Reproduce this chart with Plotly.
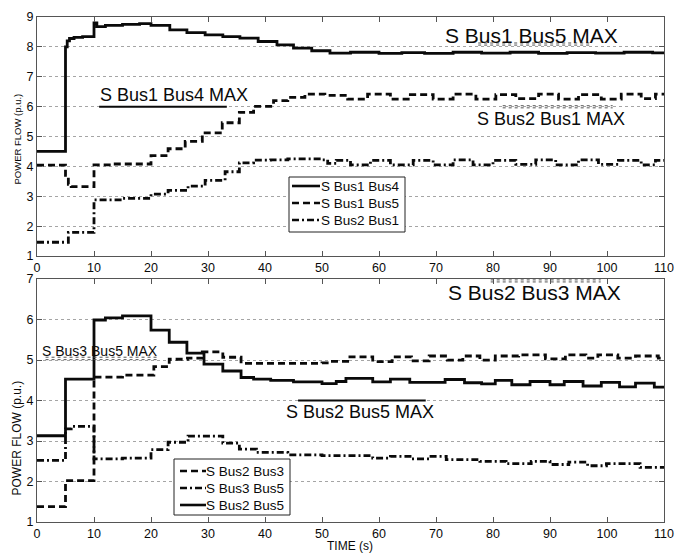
import plotly.graph_objects as go

# ---------------- data ----------------
# Top panel
t_b1b4 = [0, 5, 5.3, 5.7, 6.5, 8, 10, 10.5, 12, 15, 18, 20, 23.3, 26.3, 29.5, 32.6, 35.6, 38.8,
          42.1, 45, 48.2, 51.4, 55, 60, 64, 68, 73, 78, 83, 88, 93, 98, 103, 108, 110]
v_b1b4 = [4.5, 8.0, 8.2, 8.28, 8.32, 8.34, 8.8, 8.68, 8.72, 8.75, 8.78, 8.72, 8.57, 8.48, 8.4, 8.34,
          8.29, 8.18, 8.07, 7.96, 7.87, 7.79, 7.82, 7.78, 7.81, 7.78, 7.82, 7.79, 7.82, 7.78, 7.81,
          7.79, 7.82, 7.8, 7.8]

t_b1b5 = [0, 5, 5.5, 6, 10, 13, 20, 23, 26, 29, 32.5, 35.5, 38, 41.5, 44, 47, 50.5, 54.5, 58, 62,
          65.5, 69.5, 73, 77, 80.5, 84, 88, 91.5, 95, 99, 102.5, 106, 108.5, 110]
v_b1b5 = [4.04, 3.7, 3.4, 3.32, 4.05, 4.08, 4.36, 4.59, 4.84, 5.12, 5.46, 5.81, 6.01, 6.2, 6.31,
          6.42, 6.38, 6.25, 6.42, 6.25, 6.4, 6.25, 6.42, 6.25, 6.4, 6.27, 6.42, 6.25, 6.4, 6.25,
          6.42, 6.27, 6.42, 6.42]

t_b2b1 = [0, 5.5, 10, 15, 20, 23, 26.5, 29.5, 33, 35.5, 38, 41, 44, 47, 50, 51, 52.5, 55, 58.5,
          62, 66, 69.5, 73, 76.5, 80, 84, 87.5, 91, 95, 98.5, 102, 106, 108.5, 110]
v_b2b1 = [1.46, 1.79, 2.88, 2.93, 3.07, 3.2, 3.34, 3.53, 3.82, 4.12, 4.21, 4.22, 4.25, 4.25, 4.22,
          4.1, 4.2, 4.05, 4.2, 4.05, 4.2, 4.05, 4.22, 4.05, 4.2, 4.07, 4.22, 4.05, 4.22, 4.07, 4.2,
          4.05, 4.2, 4.2]

# Bottom panel
t_b2b3 = [0, 5, 10, 15, 20.5, 23.2, 26.4, 29, 32.6, 35.8, 50, 51.4, 54.5, 58.9, 62.3, 65.7, 68.8,
          72, 74.7, 77.7, 80.4, 84.5, 89.2, 92.7, 96.3, 98.4, 101.9, 105, 109, 110]
v_b2b3 = [1.38, 2.02, 4.58, 4.63, 4.84, 5.02, 5.05, 5.2, 5.07, 4.92, 4.93, 4.97, 5.08, 4.96, 5.08,
          4.98, 5.1, 5.0, 5.1, 5.0, 5.1, 5.13, 5.03, 5.13, 5.05, 5.13, 5.05, 5.1, 5.05, 5.05]

t_b3b5 = [0, 5, 6, 10, 15, 20, 23, 26.5, 32.6, 35.5, 38.5, 44, 50, 58.9, 62, 65.7, 68.8, 71.8,
          77.7, 82.3, 86.7, 90, 93.3, 96.6, 99.9, 105.8, 110]
v_b3b5 = [2.52, 3.3, 3.36, 2.56, 2.58, 2.79, 2.97, 3.12, 2.95, 2.8, 2.72, 2.66, 2.64, 2.58, 2.62,
          2.56, 2.62, 2.54, 2.5, 2.44, 2.5, 2.42, 2.48, 2.39, 2.44, 2.35, 2.35]

t_b2b5 = [0, 5, 10, 12, 15, 20, 23.2, 26.3, 29.3, 32.6, 35.8, 38, 41, 45, 50, 52.5, 54.2, 58.9,
          62, 65.4, 71.6, 75, 78, 80.4, 83.3, 86.5, 90, 92.5, 95.8, 99, 102.2, 105, 108.3, 110]
v_b2b5 = [3.13, 4.53, 5.99, 6.04, 6.09, 5.74, 5.44, 5.17, 4.9, 4.73, 4.57, 4.53, 4.5, 4.46, 4.42,
          4.47, 4.55, 4.46, 4.53, 4.45, 4.52, 4.44, 4.41, 4.5, 4.39, 4.47, 4.39, 4.47, 4.36, 4.45,
          4.34, 4.43, 4.33, 4.33]

top_names = ["S Bus1 Bus4", "S Bus1 Bus5", "S Bus2 Bus1"]
bot_names = ["S Bus2 Bus3", "S Bus3 Bus5", "S Bus2 Bus5"]
x_ticks = [0, 10, 20, 30, 40, 50, 60, 70, 80, 90, 100, 110]

# ---------------- styles ----------------
FONT = "Liberation Sans, Arial, sans-serif"
INK = "#0a0a0a"
DASH = "7px,4px"
DASHDOT = "7px,3px,2px,3px"
LW = 2.8
W, H = 675, 555
ML, MR, MT, MB = 37, 11, 17, 33

fig = go.Figure()

def add(t, v, name, dash, xa, ya):
    fig.add_trace(go.Scatter(x=t, y=v, name=name, mode="lines", line_shape="hv",
                             line=dict(color=INK, width=LW, dash=dash),
                             xaxis=xa, yaxis=ya, showlegend=False))

top_dashes = ["solid", DASH, DASHDOT]
bot_dashes = [DASH, DASHDOT, "solid"]
add(t_b1b4, v_b1b4, top_names[0], top_dashes[0], "x", "y")
add(t_b1b5, v_b1b5, top_names[1], top_dashes[1], "x", "y")
add(t_b2b1, v_b2b1, top_names[2], top_dashes[2], "x", "y")
add(t_b2b3, v_b2b3, bot_names[0], bot_dashes[0], "x2", "y2")
add(t_b3b5, v_b3b5, bot_names[1], bot_dashes[1], "x2", "y2")
add(t_b2b5, v_b2b5, bot_names[2], bot_dashes[2], "x2", "y2")

axis_common = dict(showline=True, linecolor="#555555", linewidth=1, mirror="ticks",
                   ticks="inside", ticklen=5, tickcolor="#555555", zeroline=False,
                   automargin=False,
                   tickfont=dict(family=FONT, size=12.5, color=INK))

fig.update_layout(
    width=W, height=H,
    margin=dict(l=ML, r=MR, t=MT, b=MB, autoexpand=False),
    paper_bgcolor="white", plot_bgcolor="white",
    showlegend=False,
    xaxis=dict(domain=[0, 1], range=[0, 110], tickvals=x_ticks, showgrid=False,
               anchor="y", **axis_common),
    yaxis=dict(domain=[0.5267, 1], range=[1, 9], dtick=1, showgrid=True,
               gridcolor="#a5a5a5", griddash="dot", gridwidth=1, anchor="x", **axis_common),
    xaxis2=dict(domain=[0, 1], range=[0, 110], tickvals=x_ticks, showgrid=False,
                anchor="y2", **axis_common),
    yaxis2=dict(domain=[0, 0.481], range=[1, 7], dtick=1, showgrid=True,
                gridcolor="#a5a5a5", griddash="dot", gridwidth=1, anchor="x2", **axis_common),
)

# pixel -> paper helpers
def px(x):
    return (x - ML) / (W - ML - MR)

def py(y):
    return 1 - (y - MT) / (H - MT - MB)

def txt(x, y, s, size, xref="x", yref="y", angle=0, xanchor="center"):
    fig.add_annotation(x=x, y=y, text=s, xref=xref, yref=yref, showarrow=False,
                       textangle=angle, xanchor=xanchor, yanchor="middle",
                       font=dict(family=FONT, size=size, color=INK))

def seg(x0, x1, y, xref, yref, dash="solid", width=2, color=INK):
    fig.add_shape(type="line", x0=x0, x1=x1, y0=y, y1=y, xref=xref, yref=yref,
                  line=dict(color=color, width=width, dash=dash))

# Manual legends (box, line sample, label)
def legend_box(x0, y0, x1, y1, names, dashes, line_x0, line_x1, text_x, rows):
    fig.add_shape(type="rect", xref="paper", yref="paper",
                  x0=px(x0), x1=px(x1), y0=py(y0), y1=py(y1),
                  line=dict(color="#222222", width=1), fillcolor="white", layer="above")
    for name, dash, ry in zip(names, dashes, rows):
        fig.add_shape(type="line", xref="paper", yref="paper",
                      x0=px(line_x0), x1=px(line_x1), y0=py(ry), y1=py(ry),
                      line=dict(color=INK, width=2.6, dash=dash), layer="above")
        txt(px(text_x), py(ry), name, 13.5, "paper", "paper", xanchor="left")

legend_box(289, 177, 405, 232, top_names, top_dashes, 292, 320, 319, [186, 203, 220])
legend_box(174, 459, 290, 515, bot_names, bot_dashes, 180, 206, 204, [471, 488, 505])

# Top panel MAX labels
txt(86.7, 8.37, "S Bus1 Bus5 MAX", 21)
seg(77.4, 97.2, 8.13, "x", "y", "dot", 1, "#555555")
seg(77.4, 97.2, 8.06, "x", "y", "dot", 1, "#555555")
txt(24.0, 6.4, "S Bus1 Bus4 MAX", 18)
seg(10.9, 33.3, 6.0, "x", "y", "solid", 2)
txt(90.2, 5.57, "S Bus2 Bus1 MAX", 18)
seg(81.7, 101.0, 6.03, "x", "y", "dot", 1, "#555555")
seg(81.7, 101.0, 5.96, "x", "y", "dot", 1, "#555555")

# Bottom panel MAX labels
txt(87.3, 6.68, "S Bus2 Bus3 MAX", 21, "x2", "y2")
seg(79.6, 98.9, 6.98, "x2", "y2", "dot", 1, "#555555")
seg(79.6, 98.9, 6.93, "x2", "y2", "dot", 1, "#555555")
txt(56.7, 3.72, "S Bus2 Bus5 MAX", 18, "x2", "y2")
seg(45.8, 68.2, 4.0, "x2", "y2", "solid", 2)
txt(11.0, 5.23, "S Bus3 Bus5 MAX", 14, "x2", "y2")
seg(1.5, 21.0, 5.07, "x2", "y2", "dot", 1, "#555555")
seg(1.5, 21.0, 5.01, "x2", "y2", "dot", 1, "#555555")

# Axis titles
txt(px(16.5), py(139), "POWER FLOW (p.u.)", 9.5, "paper", "paper", -90)
txt(px(16.5), py(438), "POWER FLOW (p.u.)", 12, "paper", "paper", -90)
txt(px(350), py(546), "TIME (s)", 12, "paper", "paper")

fig.write_html("out.html", config={"displayModeBar": False},
               post_script="document.body.style.margin='0';")
